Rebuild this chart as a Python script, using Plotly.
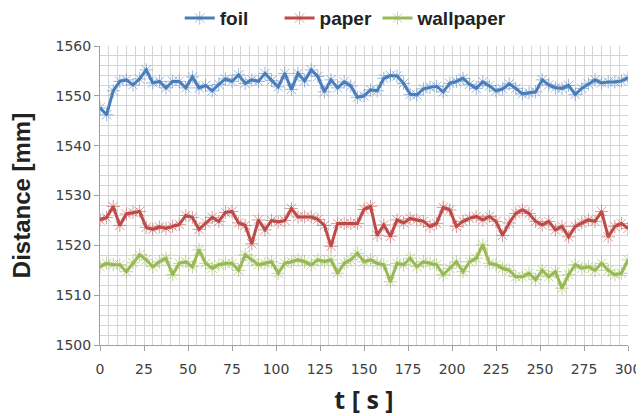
import plotly.graph_objects as go

t = [i * 3.75 for i in range(81)]

foil = [1547.6, 1546.2, 1551.0, 1552.9, 1553.2, 1552.2, 1553.4, 1555.2, 1552.6, 1552.9,
        1551.6, 1552.9, 1552.9, 1551.6, 1553.8, 1551.6, 1552.1, 1551.0, 1552.3, 1553.4,
        1552.9, 1554.2, 1552.5, 1553.2, 1552.9, 1554.5, 1553.1, 1551.8, 1554.5, 1551.3,
        1554.5, 1553.0, 1555.2, 1553.9, 1550.8, 1553.2, 1551.6, 1552.8, 1552.0, 1549.7,
        1550.0, 1551.2, 1551.0, 1553.5, 1554.1, 1554.0, 1552.5, 1550.3, 1550.2, 1551.4,
        1551.7, 1551.9, 1550.8, 1552.5, 1552.9, 1553.5, 1552.3, 1551.5, 1552.8, 1552.0,
        1551.0, 1551.4, 1552.4, 1551.5, 1550.4, 1550.6, 1550.8, 1553.2, 1552.2, 1551.6,
        1551.5, 1552.1, 1550.3, 1551.5, 1552.4, 1553.2, 1552.6, 1552.8, 1552.8, 1553.0,
        1553.6]

paper = [1525.1, 1525.6, 1527.8, 1524.0, 1526.3, 1526.6, 1526.8, 1523.6, 1523.2, 1523.7,
         1523.4, 1523.8, 1524.2, 1526.0, 1525.6, 1523.2, 1524.5, 1525.6, 1524.8, 1526.6,
         1526.8, 1524.5, 1524.0, 1520.3, 1525.1, 1523.1, 1525.0, 1524.7, 1525.0, 1527.4,
         1525.7, 1525.7, 1525.7, 1525.2, 1524.0, 1519.8, 1524.4, 1524.4, 1524.4, 1524.4,
         1527.2, 1527.8, 1522.0, 1524.1, 1521.8, 1525.1, 1524.5, 1525.4, 1525.1, 1524.8,
         1523.8, 1524.4, 1527.6, 1527.1, 1523.8, 1524.8, 1525.4, 1525.8, 1525.1, 1525.8,
         1524.8, 1522.0, 1524.5, 1526.4, 1527.1, 1526.4, 1524.8, 1524.1, 1524.8, 1523.1,
         1523.8, 1521.7, 1523.8, 1524.5, 1525.1, 1524.8, 1526.8, 1521.7, 1523.8, 1524.4,
         1523.4]

wallpaper = [1515.7, 1516.4, 1516.1, 1516.1, 1514.7, 1516.5, 1518.1, 1517.1, 1515.7, 1516.7,
             1517.4, 1514.1, 1516.4, 1516.7, 1515.7, 1519.1, 1516.4, 1515.4, 1516.1, 1516.4,
             1516.4, 1515.0, 1518.1, 1517.1, 1516.1, 1516.4, 1516.7, 1514.4, 1516.4, 1516.7,
             1517.1, 1516.7, 1516.1, 1517.1, 1516.7, 1517.1, 1514.4, 1516.4, 1517.1, 1518.4,
             1516.7, 1517.1, 1516.4, 1516.1, 1512.7, 1516.4, 1516.1, 1517.4, 1515.7, 1516.7,
             1516.4, 1516.1, 1514.1, 1515.4, 1516.7, 1514.7, 1516.7, 1517.4, 1520.1, 1516.4,
             1516.1, 1515.4, 1515.0, 1513.7, 1513.7, 1514.4, 1513.1, 1515.0, 1513.7, 1514.7,
             1511.4, 1514.1, 1516.1, 1515.4, 1515.7, 1515.0, 1516.4, 1515.0, 1514.1, 1514.4,
             1517.1]

series = [("foil", foil, "#4a7ebb", "rgba(74,126,187,0.55)", "legend", 0.27),
          ("paper", paper, "#be4b48", "rgba(190,75,72,0.55)", "legend2", 0.427),
          ("wallpaper", wallpaper, "#98b954", "rgba(152,185,84,0.6)", "legend3", 0.581)]

W, H = 636, 408

fig = go.Figure()
leg_font = dict(size=19, color="#222222", family="Liberation Sans, Arial, sans-serif", weight="bold")
legends = {}
for name, vals, col, mcol, leg, lx in series:
    fig.add_trace(go.Scatter(
        x=t, y=vals, name=name, mode="lines+markers", legend=leg,
        line=dict(color=col, width=3),
        marker=dict(symbol="asterisk-open", size=11, color=mcol, line=dict(width=1, color=mcol)),
    ))
    legends[leg] = dict(orientation="h", x=lx, xanchor="left", xref="container",
                        y=0.975, yanchor="middle", yref="container",
                        font=leg_font, itemwidth=30, bgcolor="rgba(0,0,0,0)")

grid = "#d4d4d4"
tickfont = dict(family="DejaVu Sans, sans-serif", size=14, color="#404040")
fig.update_layout(
    width=W, height=H,
    margin=dict(l=92, r=16, t=38, b=71),
    paper_bgcolor="white", plot_bgcolor="white",
    font=dict(family="Liberation Sans, Arial, sans-serif", color="#404040", size=13),
    showlegend=True,
    xaxis=dict(range=[0, 300], tickmode="linear", tick0=0, dtick=25, automargin=False,
               showgrid=True, gridcolor=grid, gridwidth=1,
               minor=dict(dtick=5, showgrid=True, gridcolor=grid, gridwidth=1),
               showline=True, linecolor="#a0a0a0", linewidth=1,
               ticks="outside", ticklen=5, tickcolor="#a0a0a0",
               ticklabelstandoff=6, tickfont=tickfont,
               zeroline=False, mirror=False,
               title=dict(text="t [ s ]", font=dict(family="Open Sans, sans-serif", size=25, color="#222222", weight="bold"), standoff=16)),
    yaxis=dict(range=[1500, 1560], tickmode="linear", tick0=1500, dtick=10, automargin=False,
               showgrid=True, gridcolor=grid, gridwidth=1,
               minor=dict(dtick=2, showgrid=True, gridcolor=grid, gridwidth=1),
               showline=True, linecolor="#a0a0a0", linewidth=1,
               ticks="outside", ticklen=5, tickcolor="#a0a0a0",
               tickfont=tickfont,
               zeroline=False,
               title=dict(text="Distance [mm]", font=dict(size=24, color="#222222", weight="bold"), standoff=18)),
    **legends,
)

fig.write_html("out.html")
